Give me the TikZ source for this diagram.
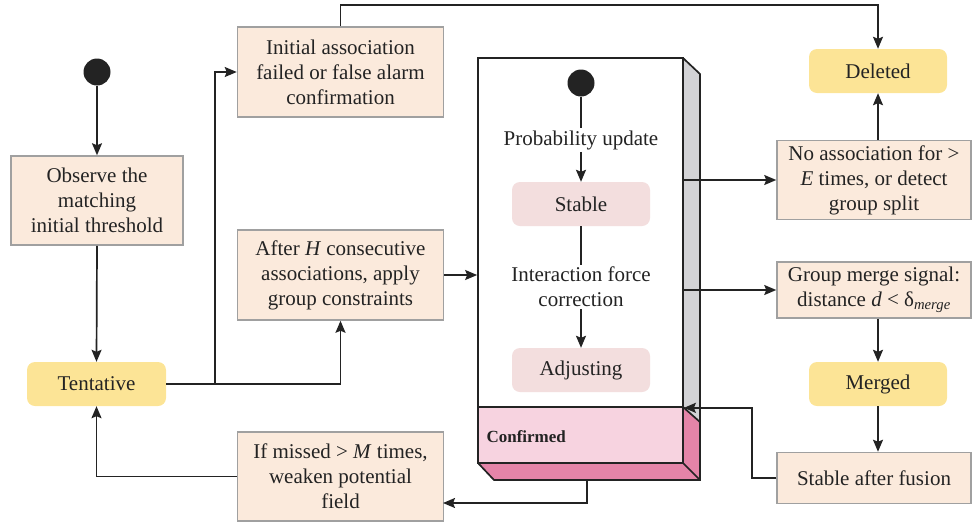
\documentclass[tikz,border=0pt]{standalone}
\usepackage{fontspec}
\setmainfont{Liberation Serif}
\usetikzlibrary{arrows.meta,calc}

\definecolor{peach}{RGB}{251,234,220}
\definecolor{boxline}{RGB}{160,160,160}
\definecolor{goldfill}{RGB}{252,228,150}
\definecolor{rosefill}{RGB}{243,222,222}
\definecolor{pinkfront}{RGB}{247,211,224}
\definecolor{pinkside}{RGB}{228,132,168}
\definecolor{sidegray}{RGB}{211,211,214}
\definecolor{ink}{RGB}{35,35,35}

\tikzset{
  every node/.style={font=\fontsize{21}{25}\selectfont, text=ink},
  condbox/.style={draw=boxline, line width=1.5pt, fill=peach, align=center,
    inner sep=0pt, minimum width=#1},
  condbox/.default=206pt,
  statebox/.style={fill=goldfill, rounded corners=8pt, inner sep=0pt,
    minimum width=139pt, minimum height=44pt},
  substate/.style={fill=rosefill, rounded corners=8pt, inner sep=0pt,
    minimum width=138pt, minimum height=44pt},
  startdot/.style={circle, fill=ink, inner sep=0pt, minimum size=27pt},
  flow/.style={draw=ink, line width=1.7pt,
    -{Stealth[length=12pt,width=10pt,inset=2pt]}},
  plain/.style={draw=ink, line width=1.7pt},
  outline/.style={draw=ink, line width=1.7pt, line join=miter},
}

\begin{document}
\begin{tikzpicture}[x=1pt, y=-1pt]
\useasboundingbox (0,0) rectangle (972,523);

% ---- left column ----
\node[startdot] (dotL) at (97,72) {};
\node[condbox=172pt, minimum height=89pt] (observe) at (97,200.5)
  {Observe the\\matching\\initial threshold};
\node[statebox] (tent) at (96.5,384) {Tentative};

% ---- middle column ----
\node[condbox, minimum height=90pt] (init) at (340.5,72)
  {Initial association\\failed or false alarm\\confirmation};
\node[condbox, minimum height=90pt] (afterH) at (340.5,275)
  {After \textit{H} consecutive\\associations, apply\\group constraints};
\node[condbox, minimum height=89pt] (missed) at (340.5,476.5)
  {If missed > \textit{M} times,\\weaken potential\\field};

% ---- composite state: extruded box ----
\fill[sidegray] (683,58) -- (700,74) -- (700,422) -- (683,407) -- cycle;
\draw[outline] (683,58) -- (700,74) -- (700,422);
\fill[pinkside] (683,407) -- (700,422) -- (700,480) -- (683,463) -- cycle;
\fill[pinkside] (478,463) -- (494,480) -- (700,480) -- (683,463) -- cycle;
\fill[pinkfront] (478,407) rectangle (683,463);
\draw[outline] (683,407) -- (700,422) -- (700,480) -- (494,480) -- (478,463);
\draw[outline] (683,463) -- (700,480);
\draw[outline] (478,407) rectangle (683,463);
\node[draw=ink, line width=1.7pt, fill=white, inner sep=0pt,
  minimum width=205pt, minimum height=349pt] (core) at (580.5,232.5) {};
\node[font=\fontsize{17}{19}\bfseries\selectfont, anchor=west] (conf)
  at (483,437) {Confirmed};
\coordinate (cbot) at (587,480);

\node[startdot] (dotC) at (581,83) {};
\node[inner sep=2pt] (prob) at (581,140) {Probability update};
\node[substate] (stable) at (581,204) {Stable};
\node[align=center, inner sep=2pt] (inter) at (581,287)
  {Interaction force\\correction};
\node[substate] (adjust) at (581,370) {Adjusting};

% ---- right column ----
\node[statebox, minimum width=138pt] (deleted) at (878,71) {Deleted};
\node[condbox=194pt, minimum height=79pt] (noassoc) at (874,180)
  {No association for >\\\textit{E} times, or detect\\group split};
\node[condbox=194pt, minimum height=56pt] (merge) at (874,290)
  {Group merge signal:\\distance \textit{d} < δ\textsubscript{\textit{merge}}};
\node[statebox, minimum width=138pt] (merged) at (878,384) {Merged};
\node[condbox=194pt, minimum height=51pt] (fusion) at (874,478)
  {Stable after fusion};

% ---- connectors ----
\coordinate (split) at (215,384);
\coordinate (topline) at (341,5);
\coordinate (loopx) at (752,478);
\coordinate (missin) at (443,503);

\draw[flow] (dotL) -- (observe.north);
\draw[flow] (observe.south) -- (tent.north);
\draw[plain] (tent.east) -- (split);
\draw[flow] (split) |- (init.west);
\draw[flow] (split) -| (afterH.south);
\draw[flow] (init.north) |- (topline) -| (deleted.north);
\draw[flow] (afterH.east) -- (afterH.east -| core.west);

\draw[plain] (dotC) -- (prob.north);
\draw[flow] (prob.south) -- (stable.north);
\draw[plain] (stable.south) -- (inter.north);
\draw[flow] (inter.south) -- (adjust.north);

\draw[flow] (core.east |- noassoc.west) -- (noassoc.west);
\draw[flow] (core.east |- merge.west) -- (merge.west);
\draw[flow] (deleted.south |- noassoc.north) -- (deleted.south);
\draw[flow] (merged.north |- merge.south) -- (merged.north);
\draw[flow] (merged.south) -- (merged.south |- fusion.north);
\draw[flow] (fusion.west) -- (loopx) |- (core.south east);

\draw[flow] (cbot) |- (missin);
\draw[flow] (missed.west) -| (tent.south);
\end{tikzpicture}
\end{document}
